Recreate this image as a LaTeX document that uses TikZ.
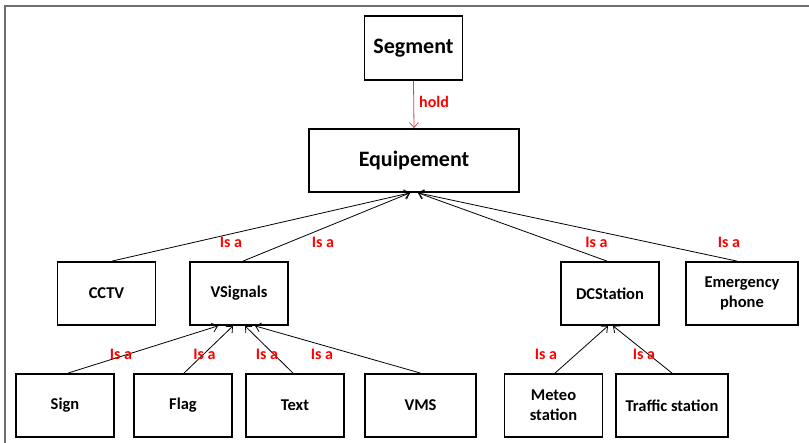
\documentclass[tikz,border=0pt]{standalone}
\usepackage{fontspec}
\setmainfont{Carlito}
\usetikzlibrary{arrows.meta}
\definecolor{holdred}{RGB}{192,80,77}
\definecolor{framegray}{RGB}{110,110,110}

\begin{document}
\begin{tikzpicture}[x=1pt,y=-1pt,
  box/.style={draw,line width=1.8pt,minimum width=98pt,minimum height=63pt,inner sep=0pt,align=center,font=\bfseries\fontsize{16.5}{20}\selectfont},
  bigbox/.style={box,font=\bfseries\fontsize{22}{24}\selectfont},
  isa/.style={text=red,inner sep=0pt,font=\bfseries\fontsize{16}{18}\selectfont},
  link/.style={line width=0.8pt,-{Straight Barb[length=5pt,width=9pt]}}]
\useasboundingbox (0,0) rectangle (809,443);
\draw[framegray,line width=1.6pt] (5,443) -- (5,6) -- (809,6);

% top of the tree
\node[bigbox,minimum height=64pt] (seg) at (413.5,48) {Segment};
\node[bigbox,minimum width=210pt] (equip) at (414,160.5) {Equipement};

% second row
\node[box] (cctv) at (106.5,293.5) {CCTV};
\node[box] (vsig) at (239,293.5) {VSignals};
\node[box] (dcst) at (610,293.5) {DCStation};
\node[box,minimum width=112pt] (emerg) at (742,293.5) {Emergency\\phone};

% third row
\node[box] (sign) at (65,405.5) {Sign};
\node[box] (flag) at (183,405.5) {Flag};
\node[box] (text) at (295,405.5) {Text};
\node[box,minimum width=111pt] (vms) at (420.5,405.5) {VMS};
\node[box] (meteo) at (553.5,405.5) {Meteo\\station};
\node[box,minimum width=112pt] (traffic) at (672,405.5) {Traffic station};

% hold
\draw[link,holdred] (seg.south) -- (equip.north);
\node[isa,anchor=west] (holdlbl) at (419,102) {hold};

% is a links
\draw[link] ([xshift=5.5pt]cctv.north) -- ([xshift=-4pt]equip.south);
\draw[link] ([xshift=4pt]vsig.north) -- ([xshift=-4pt]equip.south);
\draw[link] ([xshift=-3pt]dcst.north) -- ([xshift=4pt]equip.south);
\draw[link] ([xshift=-5pt]emerg.north) -- ([xshift=4pt]equip.south);

\draw[link] ([xshift=3pt]sign.north) -- ([xshift=-21pt]vsig.south);
\draw[link] ([xshift=1pt]flag.north) -- ([xshift=-6pt]vsig.south);
\draw[link] ([xshift=-2pt]text.north) -- ([xshift=6pt]vsig.south);
\draw[link] (vms.north) -- ([xshift=16pt]vsig.south);
\draw[link] ([xshift=1.5pt]meteo.north) -- ([xshift=-2pt]dcst.south);
\draw[link] (traffic.north) -- ([xshift=3pt]dcst.south);

\node[isa] (isa1) at (231,242) {Is a};
\node[isa] (isa2) at (323,242) {Is a};
\node[isa] (isa3) at (596.5,242) {Is a};
\node[isa] (isa4) at (729,242) {Is a};
\node[isa] (isa5) at (121,354) {Is a};
\node[isa] (isa6) at (204.5,354) {Is a};
\node[isa] (isa7) at (267,354) {Is a};
\node[isa] (isa8) at (322,354) {Is a};
\node[isa] (isa9) at (546,354) {Is a};
\node[isa] (isa10) at (644,354) {Is a};
\end{tikzpicture}
\end{document}
